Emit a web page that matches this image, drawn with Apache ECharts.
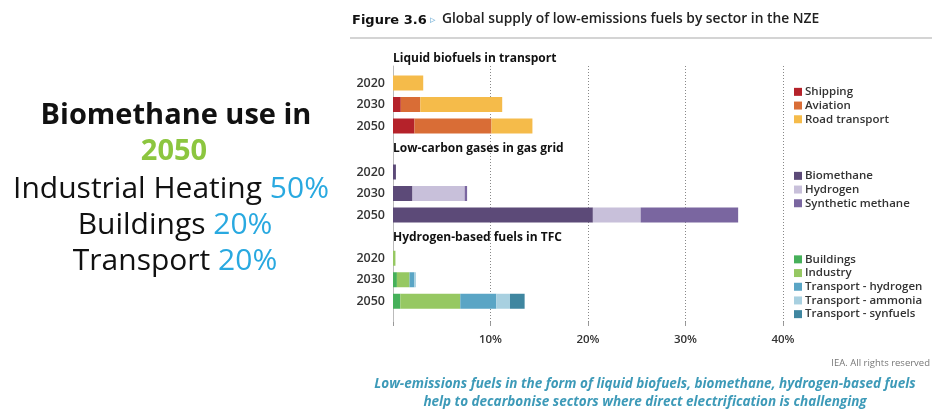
<!DOCTYPE html>
<html><head><meta charset="utf-8">
<script src="https://cdn.jsdelivr.net/npm/echarts@6/dist/echarts.min.js"></script>
<style>html,body{margin:0;padding:0;background:#fff;}#c{width:932px;height:410px;}</style>
</head><body><div id="c"></div>
<script>
const years = ['2020', '2030', '2050'];
const xTicks = [0, 10, 20, 30, 40];

// Liquid biofuels in transport (% share)
const shipping = [0, 0.8, 2.2];
const aviation = [0, 2.0, 7.9];
const roadTransport = [3.1, 8.4, 4.2];

// Low-carbon gases in gas grid
const biomethane = [0.3, 2.0, 20.5];
const hydrogenGas = [0, 5.35, 4.9];
const syntheticMethane = [0, 0.25, 10.0];

// Hydrogen-based fuels in TFC
const buildings = [0, 0.4, 0.75];
const industry = [0.25, 1.3, 6.15];
const transportHydrogen = [0, 0.5, 3.7];
const transportAmmonia = [0, 0.15, 1.4];
const transportSynfuels = [0, 0, 1.5];

const panels = [
  { title: 'Liquid biofuels in transport', series: [
    ['Shipping', shipping, '#b5222a'],
    ['Aviation', aviation, '#d96d36'],
    ['Road transport', roadTransport, '#f5bb4a']]},
  { title: 'Low-carbon gases in gas grid', series: [
    ['Biomethane', biomethane, '#5c4a78'],
    ['Hydrogen', hydrogenGas, '#c8c0da'],
    ['Synthetic methane', syntheticMethane, '#7a66a0']]},
  { title: 'Hydrogen-based fuels in TFC', series: [
    ['Buildings', buildings, '#46b05a'],
    ['Industry', industry, '#96c862'],
    ['Transport - hydrogen', transportHydrogen, '#5aa5c5'],
    ['Transport - ammonia', transportAmmonia, '#a8d0e0'],
    ['Transport - synfuels', transportSynfuels, '#3f86a0']]}
];

const chart = echarts.init(document.getElementById('c'));
const L = 393, W = 390;
const gridTops = [72.25, 161.25, 247.5];
const legendTops = [80, 164, 247.5];
const titleYs = [58, 148, 237];
const FONT = '"Open Sans"';

const grid = [], xAxis = [], yAxis = [], series = [], legend = [];
grid.push({ left: L, top: 66, width: W, height: 256 });
xAxis.push({ gridIndex: 0, type: 'value', min: 0, max: 40, interval: 10,
  axisLine: { show: false },
  axisTick: { show: true, length: 4, lineStyle: { color: '#999' } },
  splitLine: { show: true, lineStyle: { type: [1, 2], color: '#888', width: 1 } },
  axisLabel: { margin: 12, fontFamily: FONT, fontWeight: 600, fontSize: 11.5, color: '#333',
    formatter: v => v === 0 ? '' : v + '%' } });
yAxis.push({ gridIndex: 0, type: 'value', min: 0, max: 1, show: true,
  axisLine: { show: true, lineStyle: { color: '#bbb' } }, axisTick: { show: false },
  axisLabel: { show: false }, splitLine: { show: false } });

panels.forEach((p, i) => {
  const gi = i + 1;
  grid.push({ left: L, top: gridTops[i], width: W, height: 64.5 });
  xAxis.push({ gridIndex: gi, type: 'value', min: 0, max: 40, show: false, splitLine: { show: false } });
  yAxis.push({ gridIndex: gi, type: 'category', data: years, inverse: true,
    axisLine: { show: false }, axisTick: { show: false },
    axisLabel: { margin: 8, fontFamily: FONT, fontWeight: 600, fontSize: 12.5, color: '#333' } });
  p.series.forEach(s => {
    series.push({ name: s[0], type: 'bar', stack: 'p' + i, xAxisIndex: gi, yAxisIndex: gi,
      data: s[1], barWidth: 15, itemStyle: { color: s[2] }, silent: true, animation: false });
  });
  legend.push({ data: p.series.map(s => s[0]), orient: 'vertical', left: 789, top: legendTops[i],
    itemWidth: 8, itemHeight: 8, itemGap: 0, icon: 'rect', selectedMode: false,
    textStyle: { fontFamily: FONT, fontWeight: 600, fontSize: 11.5, lineHeight: 13.7, color: '#333', padding: [0, 0, 0, -2] } });
});

const graphic = [
  { type: 'text', left: 352, top: 14, style: { text: 'Figure 3.6', font: '900 13px "DejaVu Sans"', fill: '#111' } },
  { type: 'text', left: 430, top: 15, style: { text: '▹', font: '11px "DejaVu Sans"', fill: '#7cb4d8' } },
  { type: 'text', left: 442, top: 12, style: { text: 'Global supply of low-emissions fuels by sector in the NZE', font: '600 13.8px "Open Sans"', fill: '#222' } },
  { type: 'rect', shape: { x: 350, y: 37, width: 582, height: 2 }, style: { fill: '#d4d4d4' } },
  { type: 'text', x: 930, y: 363, style: { text: 'IEA. All rights reserved', font: '9.5px "Open Sans"', fill: '#777', align: 'right', verticalAlign: 'middle' } },
  { type: 'text', x: 645, y: 384, style: { text: 'Low-emissions fuels in the form of liquid biofuels, biomethane, hydrogen-based fuels', font: 'italic bold 13.5px "Open Sans"', fill: '#3d9ab8', align: 'center', verticalAlign: 'middle' } },
  { type: 'text', x: 645, y: 402, style: { text: 'help to decarbonise sectors where direct electrification is challenging', font: 'italic bold 13.5px "Open Sans"', fill: '#3d9ab8', align: 'center', verticalAlign: 'middle' } },
  { type: 'text', x: 176, y: 116, style: { text: 'Biomethane use in', font: 'bold 29px "Open Sans"', fill: '#111', align: 'center', verticalAlign: 'middle' } },
  { type: 'text', x: 174, y: 152, style: { text: '2050', font: 'bold 29px "Open Sans"', fill: '#8cc63f', align: 'center', verticalAlign: 'middle' } },
];
const lines = [['Industrial Heating ', '50%', 189, 171], ['Buildings ', '20%', 225, 175], ['Transport ', '20%', 261, 175]];
lines.forEach(l => graphic.push({ type: 'text', x: l[3], y: l[2], style: {
  text: '{a|' + l[0] + '}{b|' + l[1] + '}', align: 'center', verticalAlign: 'middle',
  rich: { a: { font: '30px "Open Sans"', fill: '#111', color: '#111' }, b: { font: '30px "Open Sans"', fill: '#29a9e0', color: '#29a9e0' } } } }));
panels.forEach((p, i) => graphic.push({ type: 'text', left: L, top: titleYs[i] - 5,
  style: { text: p.title, font: 'bold 12px "Open Sans"', fill: '#111' } }));

chart.setOption({ animation: false, grid, xAxis, yAxis, series, legend, graphic });
</script></body></html>
